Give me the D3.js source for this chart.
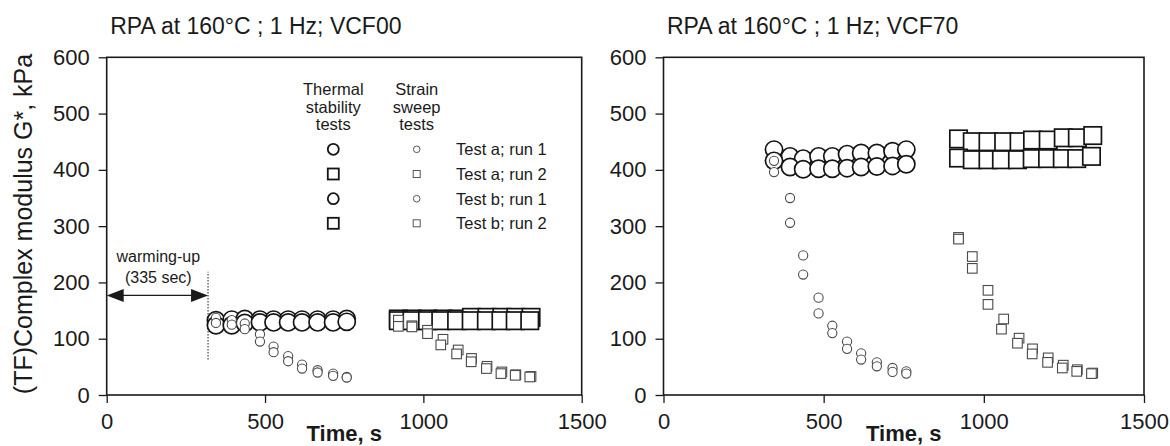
<!DOCTYPE html>
<html>
<head>
<meta charset="utf-8">
<script src="https://cdn.jsdelivr.net/npm/d3@7"></script>
<style>
  body { margin: 0; background: #fff; }
  svg { display: block; }
  text { font-family: "Liberation Sans", Arial, Helvetica, sans-serif; fill: #1a1a1a; }
</style>
</head>
<body>
<svg id="chart" width="1170" height="446"></svg>
<script>
// ---- data -------------------------------------------------------------
// Sampling times (s)
const timeCircles   = [345, 395, 436, 484, 527, 573, 617, 666, 715, 758];
const timeSquaresA  = [921, 964, 1013, 1062, 1110, 1152, 1201, 1248, 1292, 1340];
const timeSquaresB  = [921, 964, 1013, 1055, 1105, 1151, 1199, 1245, 1290, 1336];

// VCF00 — thermal stability tests (G*, kPa)
const vcf00ThermalA1 = [133, 134, 135, 134, 134, 134, 134, 134, 134, 135];
const vcf00ThermalB1 = [124, 124, 128, 129, 129, 129, 129, 129, 129, 130];
const vcf00ThermalA2 = [135, 135, 135, 135, 135, 138, 138, 138, 138, 138];
const vcf00ThermalB2 = [132, 132, 132, 132, 132, 132, 132, 132, 132, 132];
// VCF00 — strain sweep tests
const vcf00StrainA1 = [137, 133, 127, 108, 86, 69, 54, 44, 38, 32];
const vcf00StrainB1 = [128, 125, 117, 95, 76, 60, 47, 40, 34, 31];
const vcf00StrainA2 = [133, 123, 115, 99, 80, 65, 51, 41, 36, 33];
const vcf00StrainB2 = [122, 121, 109, 89, 73, 59, 47, 38, 35, 32];

// VCF70 — thermal stability tests
const vcf70ThermalA1 = [436, 424, 420, 424, 424, 428, 430, 430, 433, 436];
const vcf70ThermalB1 = [416, 405, 401, 402, 402, 403, 405, 406, 407, 410];
const vcf70ThermalA2 = [455, 450, 450, 450, 450, 453, 453, 457, 457, 461];
const vcf70ThermalB2 = [421, 418, 418, 418, 418, 420, 420, 420, 420, 424];
// VCF70 — strain sweep tests
const vcf70StrainA1 = [416, 350, 248, 173, 123, 95, 74, 58, 48, 42];
const vcf70StrainB1 = [396, 306, 214, 145, 110, 82, 63, 51, 41, 38];
const vcf70StrainA2 = [280, 246, 186, 135, 101, 82, 66, 53, 45, 39];
const vcf70StrainB2 = [277, 225, 161, 117, 92, 73, 58, 48, 42, 38];

// Axes
const xTicks = [0, 500, 1000, 1500];
const yTicks = [0, 100, 200, 300, 400, 500, 600];
const panelTitles = ["RPA at 160°C ; 1 Hz; VCF00", "RPA at 160°C ; 1 Hz; VCF70"];
const xTitle = "Time, s";
const yTitle = "(TF)Complex modulus G*, kPa";

// Legend
const legendHeaderThermal = ["Thermal", "stability", "tests"];
const legendHeaderStrain = ["Strain", "sweep", "tests"];
const legendLabels = ["Test a; run 1", "Test a; run 2", "Test b; run 1", "Test b; run 2"];
const legendShapes = ["circle", "square", "circle", "square"];

// Warm-up annotation
const warmupLabel = ["warming-up", "(335 sec)"];
const warmupEnd = 320;       // s, end of the warm-up period (dotted marker)
const warmupArrowY = 177;    // kPa
const warmupLineRange = [63, 219];

// ---- drawing ----------------------------------------------------------
const svg = d3.select("#chart");
const FONT_TICK = 22;

const big = { r: 8.6, side: 17.4, stroke: "#141414", width: 1.7 };
const small = { r: 4.6, side: 9.6, stroke: "#4a4a4a", width: 1.1 };

function makeSeries(times, values, shape, style) {
  return { points: times.map((t, i) => ({ t, v: values[i] })), shape, style };
}

const panels = [
  {
    title: panelTitles[0], left: 106.7, right: 581.7, legend: true, warmup: true,
    series: [
      makeSeries(timeCircles, vcf00ThermalA1, "circle", big),
      makeSeries(timeCircles, vcf00ThermalB1, "circle", big),
      makeSeries(timeSquaresA, vcf00ThermalA2, "square", big),
      makeSeries(timeSquaresB, vcf00ThermalB2, "square", big),
      makeSeries(timeCircles, vcf00StrainA1, "circle", small),
      makeSeries(timeCircles, vcf00StrainB1, "circle", small),
      makeSeries(timeSquaresA, vcf00StrainA2, "square", small),
      makeSeries(timeSquaresB, vcf00StrainB2, "square", small)
    ]
  },
  {
    title: panelTitles[1], left: 663.5, right: 1144, legend: false, warmup: false,
    series: [
      makeSeries(timeCircles, vcf70ThermalA1, "circle", big),
      makeSeries(timeCircles, vcf70ThermalB1, "circle", big),
      makeSeries(timeSquaresA, vcf70ThermalA2, "square", big),
      makeSeries(timeSquaresB, vcf70ThermalB2, "square", big),
      makeSeries(timeCircles, vcf70StrainA1, "circle", small),
      makeSeries(timeCircles, vcf70StrainB1, "circle", small),
      makeSeries(timeSquaresA, vcf70StrainA2, "square", small),
      makeSeries(timeSquaresB, vcf70StrainB2, "square", small)
    ]
  }
];

const TOP = 57.3, BOTTOM = 395;

function drawMarker(g, shape, cx, cy, style, scale = 1) {
  if (shape === "circle") {
    g.append("circle")
      .attr("cx", cx).attr("cy", cy).attr("r", style.r * scale)
      .attr("fill", "#fff").attr("stroke", style.stroke).attr("stroke-width", style.width);
  } else {
    const s = style.side * scale;
    g.append("rect")
      .attr("x", cx - s / 2).attr("y", cy - s / 2).attr("width", s).attr("height", s)
      .attr("fill", "#fff").attr("stroke", style.stroke).attr("stroke-width", style.width);
  }
}

panels.forEach(p => {
  const x = d3.scaleLinear().domain([0, 1500]).range([p.left, p.right]);
  const y = d3.scaleLinear().domain([0, 600]).range([BOTTOM, TOP]);
  const g = svg.append("g");

  // title
  g.append("text").attr("x", p.left + 3.5).attr("y", 33.5)
    .attr("font-size", 23).text(p.title);

  // axes
  const xAxis = g.append("g").attr("transform", `translate(0,${BOTTOM})`)
    .call(d3.axisBottom(x).tickValues(xTicks).tickFormat(d3.format("d"))
      .tickSize(8).tickSizeOuter(0).tickPadding(10.5));
  const yAxis = g.append("g").attr("transform", `translate(${p.left},0)`)
    .call(d3.axisLeft(y).tickValues(yTicks).tickFormat(d3.format("d"))
      .tickSize(8).tickSizeOuter(0).tickPadding(9));
  [xAxis, yAxis].forEach(a => {
    a.selectAll(".domain").remove();
    a.selectAll("line").attr("stroke", "#1a1a1a").attr("stroke-width", 1.3);
    a.selectAll("text").attr("font-size", FONT_TICK).attr("fill", "#1a1a1a")
      .attr("font-family", "'Liberation Sans', Arial, sans-serif");
  });

  // frame
  g.append("rect").attr("x", x(0)).attr("y", y(600))
    .attr("width", x(1500) - x(0)).attr("height", y(0) - y(600))
    .attr("fill", "none").attr("stroke", "#1a1a1a").attr("stroke-width", 1.6);

  // x-axis title
  g.append("text").attr("x", (p.left + p.right) / 2).attr("y", 441)
    .attr("text-anchor", "middle").attr("font-size", 22).attr("font-weight", "bold")
    .text(xTitle);

  // warm-up annotation
  if (p.warmup) {
    const ay = y(warmupArrowY), x0 = x(0), x1 = x(warmupEnd);
    g.append("line").attr("x1", x1).attr("x2", x1)
      .attr("y1", y(warmupLineRange[0])).attr("y2", y(warmupLineRange[1]))
      .attr("stroke", "#1a1a1a").attr("stroke-width", 1).attr("stroke-dasharray", "1.5,1.5");
    g.append("line").attr("x1", x0 + 14).attr("x2", x1 - 14).attr("y1", ay).attr("y2", ay)
      .attr("stroke", "#1a1a1a").attr("stroke-width", 1.4);
    g.append("path").attr("d", `M${x0},${ay} L${x0 + 17},${ay - 6.5} L${x0 + 17},${ay + 6.5} Z`).attr("fill", "#1a1a1a");
    g.append("path").attr("d", `M${x1},${ay} L${x1 - 17},${ay - 6.5} L${x1 - 17},${ay + 6.5} Z`).attr("fill", "#1a1a1a");
    const cx = x(163);
    g.append("text").attr("x", cx).attr("y", 261.5).attr("text-anchor", "middle")
      .attr("font-size", 16).text(warmupLabel[0]);
    g.append("text").attr("x", cx).attr("y", 282.5).attr("text-anchor", "middle")
      .attr("font-size", 16).text(warmupLabel[1]);
  }

  // data markers
  p.series.forEach(s => {
    const sg = g.append("g");
    s.points.forEach(d => drawMarker(sg, s.shape, x(d.t), y(d.v), s.style));
  });

  // legend
  if (p.legend) {
    const lg = g.append("g");
    const colThermal = 333.3, colStrain = 416.7, colText = 456;
    const headerY = [95, 112.5, 129.5];
    legendHeaderThermal.forEach((t, i) => lg.append("text").attr("x", colThermal).attr("y", headerY[i])
      .attr("text-anchor", "middle").attr("font-size", 16.5).text(t));
    legendHeaderStrain.forEach((t, i) => lg.append("text").attr("x", colStrain).attr("y", headerY[i])
      .attr("text-anchor", "middle").attr("font-size", 16.5).text(t));
    const rowY = [149.3, 174, 198.7, 223.3];
    legendLabels.forEach((lab, i) => {
      drawMarker(lg, legendShapes[i], colThermal, rowY[i], { r: 5.5, side: 11, stroke: "#141414", width: 1.8 });
      drawMarker(lg, legendShapes[i], colStrain, rowY[i], { r: 3.3, side: 7, stroke: "#555", width: 1 });
      lg.append("text").attr("x", colText).attr("y", rowY[i] + 5.8)
        .attr("font-size", 16.5).text(lab);
    });
  }
});

// y-axis title (shared, left side)
svg.append("text")
  .attr("transform", `translate(32,224) rotate(-90)`)
  .attr("text-anchor", "middle").attr("font-size", 25)
  .text(yTitle);
</script>
</body>
</html>
